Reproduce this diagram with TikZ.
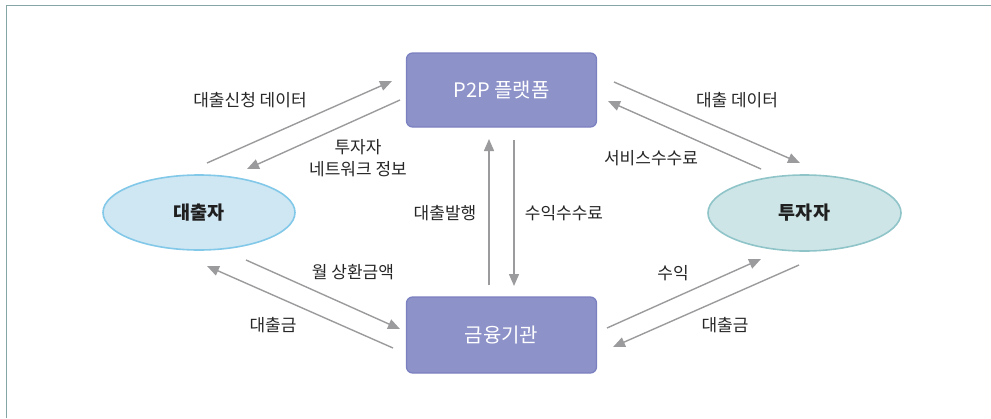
\documentclass[tikz,border=0pt]{standalone}
\usepackage{fontspec}
\setmainfont{Noto Sans CJK KR}
\usetikzlibrary{arrows.meta,shapes.geometric}
\definecolor{framec}{HTML}{86A5A6}
\definecolor{boxfill}{HTML}{8D92C9}
\definecolor{boxline}{HTML}{7B81C0}
\definecolor{lfill}{HTML}{CFE6F3}
\definecolor{lline}{HTML}{82C8E8}
\definecolor{rfill}{HTML}{CEE5E7}
\definecolor{rline}{HTML}{8FC4C9}
\definecolor{arrc}{HTML}{9B9B9D}
\definecolor{txt}{HTML}{262626}
\tikzset{
  platbox/.style={rectangle, rounded corners=6pt, draw=boxline, line width=1.2pt, fill=boxfill,
    minimum width=190pt, minimum height=74pt, text=white, font=\fontsize{20}{24}\selectfont},
  actor/.style={ellipse, line width=1.6pt, minimum width=192pt, minimum height=75pt,
    text=black!88, font=\fontsize{18.5}{22}\selectfont\bfseries},
  flow/.style={draw=arrc, line width=1.4pt, -{Triangle[length=12pt,width=10pt]}},
  lbl/.style={text=txt, font=\fontsize{17}{22}\selectfont, align=center, inner sep=0pt}
}
\begin{document}
\begin{tikzpicture}[x=1pt,y=-1pt]
\useasboundingbox (0,0) rectangle (991,418);
\draw[framec, line width=1.3pt] (6.5,418) -- (6.5,5.5) -- (991,5.5);

\node[platbox] (p2p) at (501.5,90) {P2P 플랫폼};
\node[platbox, minimum height=76pt] (bank) at (501.5,335) {금융기관};
\node[actor, draw=lline, fill=lfill] (borrower) at (199,212.5) {대출자};
\node[actor, draw=rline, fill=rfill, minimum width=193pt, minimum height=76pt] (investor) at (804.5,213) {투자자};

% endpoints
\coordinate (a1s) at (207,163); \coordinate (a1e) at (392,81);
\coordinate (a2s) at (400,100); \coordinate (a2e) at (247,169);
\coordinate (b1s) at (614,82);  \coordinate (b1e) at (800,163);
\coordinate (b2s) at (761,169); \coordinate (b2e) at (608,101);
\coordinate (v1s) at (489,285); \coordinate (v1e) at (489,139);
\coordinate (v2s) at (514,140); \coordinate (v2e) at (514,286);
\coordinate (c1s) at (246,260); \coordinate (c1e) at (400,329);
\coordinate (c2s) at (393,348); \coordinate (c2e) at (207,266);
\coordinate (d1s) at (607,328); \coordinate (d1e) at (761,259);
\coordinate (d2s) at (799,265); \coordinate (d2e) at (613,347);

\draw[flow] (a1s) -- (a1e);
\draw[flow] (a2s) -- (a2e);
\draw[flow] (b1s) -- (b1e);
\draw[flow] (b2s) -- (b2e);
\draw[flow] (v1s) -- (v1e);
\draw[flow] (v2s) -- (v2e);
\draw[flow] (c1s) -- (c1e);
\draw[flow] (c2s) -- (c2e);
\draw[flow] (d1s) -- (d1e);
\draw[flow] (d2s) -- (d2e);

\node[lbl] (l1) at (250,100) {대출신청 데이터};
\node[lbl] (l2) at (358,158) {투자자\\네트워크 정보};
\node[lbl] (l3) at (737,100) {대출 데이터};
\node[lbl] (l4) at (651,158) {서비스수수료};
\node[lbl] (l5) at (445,213) {대출발행};
\node[lbl] (l6) at (564,213) {수익수수료};
\node[lbl] (l7) at (353,272) {월 상환금액};
\node[lbl] (l8) at (273,325) {대출금};
\node[lbl] (l9) at (673,273) {수익};
\node[lbl] (l10) at (725,325) {대출금};
\end{tikzpicture}
\end{document}
